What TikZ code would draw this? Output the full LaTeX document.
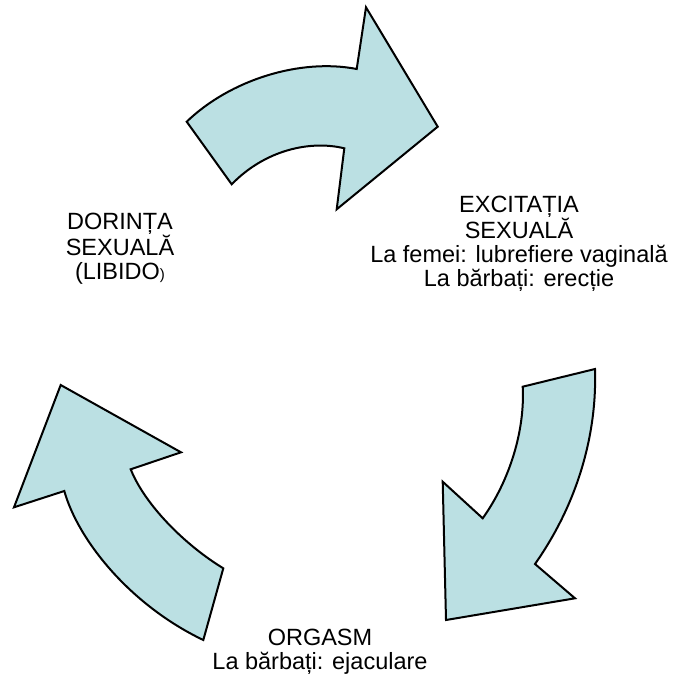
\documentclass[tikz,border=0pt]{standalone}
\usepackage{fontspec}
\setmainfont{Liberation Sans}
\definecolor{arrowfill}{RGB}{187,224,227}
\begin{document}
\begin{tikzpicture}[x=1pt,y=-1pt,
  bigarrow/.style={fill=arrowfill,draw=black,line width=2pt,line join=miter},
  lbl/.style={align=center,font=\fontsize{23.5}{24}\selectfont,inner sep=0pt}]
\useasboundingbox (0,0) rectangle (673,682);
% top arrow
\path[bigarrow] (186.7,121.7) .. controls (230,80) and (300,58) .. (356.7,69)
  -- (366,7.3) -- (437.7,126.7) -- (336.7,209.3) -- (344.3,148.3)
  .. controls (310,140) and (265,150) .. (231.7,184.3) -- cycle;
% right arrow
\path[bigarrow] (595,369) .. controls (597,430) and (580,500) .. (535,564)
  -- (575,598.3) -- (446,620) -- (442.7,481.7) -- (482.7,518.3)
  .. controls (510,480) and (525,430) .. (522.7,386.7) -- cycle;
% left arrow
\path[bigarrow] (203.3,640) -- (223.3,568.3)
  .. controls (185,545) and (145,505) .. (130.7,469.3)
  -- (181,452.3) -- (60.7,385) -- (14,507.3) -- (64.3,491)
  .. controls (78,540) and (130,605) .. cycle;
\node[lbl] (dorinta) at (120,249) {DORINȚA\\SEXUALĂ\\(LIBIDO{\fontsize{15}{24}\selectfont )}};
\node[lbl] (excitatia) at (519,244) {EXCITAȚIA\\SEXUALĂ\\La femei: lubrefiere vaginală\\La bărbați: erecție};
\node[lbl] (orgasm) at (320,652) {ORGASM\\La bărbați: ejaculare};
\end{tikzpicture}
\end{document}
